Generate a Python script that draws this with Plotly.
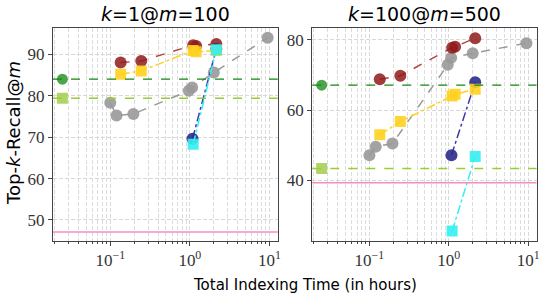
import plotly.graph_objects as go

# ---------------- data ----------------
panel_titles = ["<i>k</i>=1@<i>m</i>=100", "<i>k</i>=100@<i>m</i>=500"]

x_red = [0.135, 0.245, 1.1, 1.2, 2.15]
red_left = [88.0, 88.4, 92.2, 92.0, 92.5]
red_right = [68.8, 69.8, 77.8, 78.1, 80.5]

x_yellow = [0.135, 0.245, 1.1, 1.2, 2.15]
yellow_left = [85.2, 86.0, 90.9, 90.6, 90.9]
yellow_right = [52.9, 56.7, 64.0, 64.5, 65.9]

x_grey = [0.1, 0.12, 0.195, 0.97, 1.07, 2.0, 9.5]
grey_left = [78.3, 75.2, 75.6, 81.2, 82.0, 85.6, 94.0]
grey_right = [47.1, 49.5, 50.4, 72.9, 74.9, 76.2, 79.1]

x_navy = [1.08, 2.15]
navy_left = [69.6, 91.3]
navy_right = [47.1, 67.9]

x_cyan = [1.1, 2.15]
cyan_left = [68.3, 91.1]
cyan_right = [25.4, 46.7]

x_base = [0.025]
green_left, green_right = 84.0, 67.1
lgreen_left, lgreen_right = 79.4, 43.3
pink_left, pink_right = 47.1, 39.2

x_tickvals = [0.1, 1, 10]
x_ticktext = ["10<sup>\u22121</sup>", "10<sup>0</sup>", "10<sup>1</sup>"]
y_ticks_left = [50, 60, 70, 80, 90]
y_ticks_right = [40, 60, 80]

# ---------------- styles ----------------
C_RED_M, C_RED_L = "#8f1a1a", "#b04545"
C_YEL_M, C_YEL_L = "#ffd21f", "#ffd21f"
C_GREY = "#999999"
C_NAVY_M, C_NAVY_L = "#2b2b8c", "#3a3aa8"
C_CYAN = "#33f0f0"
C_GREEN_M, C_GREEN_L = "#3a9a3a", "#118811"
C_LGREEN_M, C_LGREEN_L = "#a8cf55", "#9acd32"
C_PINK = "#f48cc0"

SERIF = "Liberation Serif"
SANS = "DejaVu Sans"

fig = go.Figure()

panels = [
    dict(xa="x", ya="y", red=red_left, yel=yellow_left, grey=grey_left, navy=navy_left,
         cyan=cyan_left, green=green_left, lg=lgreen_left, pink=pink_left),
    dict(xa="x2", ya="y2", red=red_right, yel=yellow_right, grey=grey_right, navy=navy_right,
         cyan=cyan_right, green=green_right, lg=lgreen_right, pink=pink_right),
]

for p in panels:
    xa, ya = p["xa"], p["ya"]
    xref_dom = xa + " domain"
    for yv, col, dash, w in [(p["pink"], C_PINK, "solid", 1.6),
                             (p["lg"], C_LGREEN_L, "dash", 1.4),
                             (p["green"], C_GREEN_L, "dash", 1.4)]:
        fig.add_shape(type="line", xref=xref_dom, yref=ya, x0=0, x1=1, y0=yv, y1=yv,
                      line=dict(color=col, width=w, dash=dash), layer="above")
    fig.add_trace(go.Scatter(x=x_base, y=[p["lg"]], mode="markers", xaxis=xa, yaxis=ya,
                             marker=dict(symbol="square", size=11, color=C_LGREEN_M, opacity=0.9),
                             showlegend=False))
    fig.add_trace(go.Scatter(x=x_base, y=[p["green"]], mode="markers", xaxis=xa, yaxis=ya,
                             marker=dict(symbol="circle", size=11, color=C_GREEN_M, opacity=0.9),
                             showlegend=False))
    fig.add_trace(go.Scatter(x=x_grey, y=p["grey"], mode="lines+markers", xaxis=xa, yaxis=ya,
                             line=dict(color=C_GREY, width=1.5, dash="dash"),
                             marker=dict(symbol="circle", size=12, color=C_GREY, opacity=0.9),
                             showlegend=False))
    fig.add_trace(go.Scatter(x=x_red, y=p["red"], mode="lines+markers", xaxis=xa, yaxis=ya,
                             line=dict(color=C_RED_L, width=1.5, dash="dash"),
                             marker=dict(symbol="circle", size=12, color=C_RED_M, opacity=0.85),
                             showlegend=False))
    fig.add_trace(go.Scatter(x=x_navy, y=p["navy"], mode="lines+markers", xaxis=xa, yaxis=ya,
                             line=dict(color=C_NAVY_L, width=1.5, dash="dashdot"),
                             marker=dict(symbol="circle", size=12, color=C_NAVY_M, opacity=0.9),
                             showlegend=False))
    fig.add_trace(go.Scatter(x=x_yellow, y=p["yel"], mode="lines+markers", xaxis=xa, yaxis=ya,
                             line=dict(color=C_YEL_L, width=1.5, dash="dashdot"),
                             marker=dict(symbol="square", size=11, color=C_YEL_M, opacity=0.9),
                             showlegend=False))
    fig.add_trace(go.Scatter(x=x_cyan, y=p["cyan"], mode="lines+markers", xaxis=xa, yaxis=ya,
                             line=dict(color=C_CYAN, width=1.5, dash="dashdot"),
                             marker=dict(symbol="square", size=11, color=C_CYAN, opacity=0.9),
                             showlegend=False))

W, H = 548, 296
y_dom = [1 - 240.7 / H, 1 - 28.3 / H]
x_dom1 = [53.3 / W, 279.3 / W]
x_dom2 = [314.0 / W, 539.5 / W]

def xaxis(domain, anchor):
    return dict(type="log", domain=domain, anchor=anchor, range=[-1.72, 1.105],
                tickvals=x_tickvals, ticktext=x_ticktext,
                ticks="outside", ticklen=4, tickwidth=1, tickcolor="#444",
                tickfont=dict(family=SERIF, size=17, color="#333"),
                showline=True, linecolor="#444", linewidth=1.3, mirror=True,
                showgrid=True, gridcolor="#d8d8d8", griddash="4px,2px", gridwidth=1,
                minor=dict(dtick="D1", ticks="outside", ticklen=2.5, tickcolor="#444",
                           showgrid=True, gridcolor="#dcdcdc", griddash="4px,2px", gridwidth=1),
                zeroline=False)

def yaxis(domain, anchor, rng, tv):
    return dict(domain=domain, anchor=anchor, range=rng, tickvals=tv,
                ticks="outside", ticklen=4, tickwidth=1, tickcolor="#444",
                tickfont=dict(family=SERIF, size=17, color="#333"),
                showline=True, linecolor="#444", linewidth=1.3, mirror=True,
                showgrid=True, gridcolor="#d8d8d8", griddash="4px,2px", gridwidth=1,
                zeroline=False)

fig.update_layout(
    width=W, height=H, margin=dict(l=0, r=0, t=0, b=0),
    paper_bgcolor="white", plot_bgcolor="white",
    xaxis=xaxis(x_dom1, "y"),
    yaxis=yaxis(y_dom, "x", [45.0, 96.28], y_ticks_left),
    xaxis2=xaxis(x_dom2, "y2"),
    yaxis2=yaxis(y_dom, "x2", [22.66, 83.34], y_ticks_right),
)

for title, dom in zip(panel_titles, [x_dom1, x_dom2]):
    fig.add_annotation(text=title, xref="paper", yref="paper",
                       x=(dom[0] + dom[1]) / 2, y=1 - 14 / H, showarrow=False,
                       xanchor="center", yanchor="middle",
                       font=dict(family=SANS, size=19, color="black"))

fig.add_annotation(text="Total Indexing Time (in hours)", xref="paper", yref="paper",
                   x=306.7 / W, y=1 - 285 / H, showarrow=False, xanchor="center",
                   yanchor="middle", font=dict(family=SANS, size=15, color="black"))
fig.add_annotation(text="Top-<i>k</i>-Recall@<i>m</i>", xref="paper", yref="paper",
                   x=13 / W, y=1 - 133 / H, showarrow=False, textangle=-90,
                   xanchor="center", yanchor="middle",
                   font=dict(family=SANS, size=18, color="black"))

fig.write_html("out.html", config={"displayModeBar": False},
               post_script="document.body.style.margin='0px';document.body.style.overflow='hidden';")
